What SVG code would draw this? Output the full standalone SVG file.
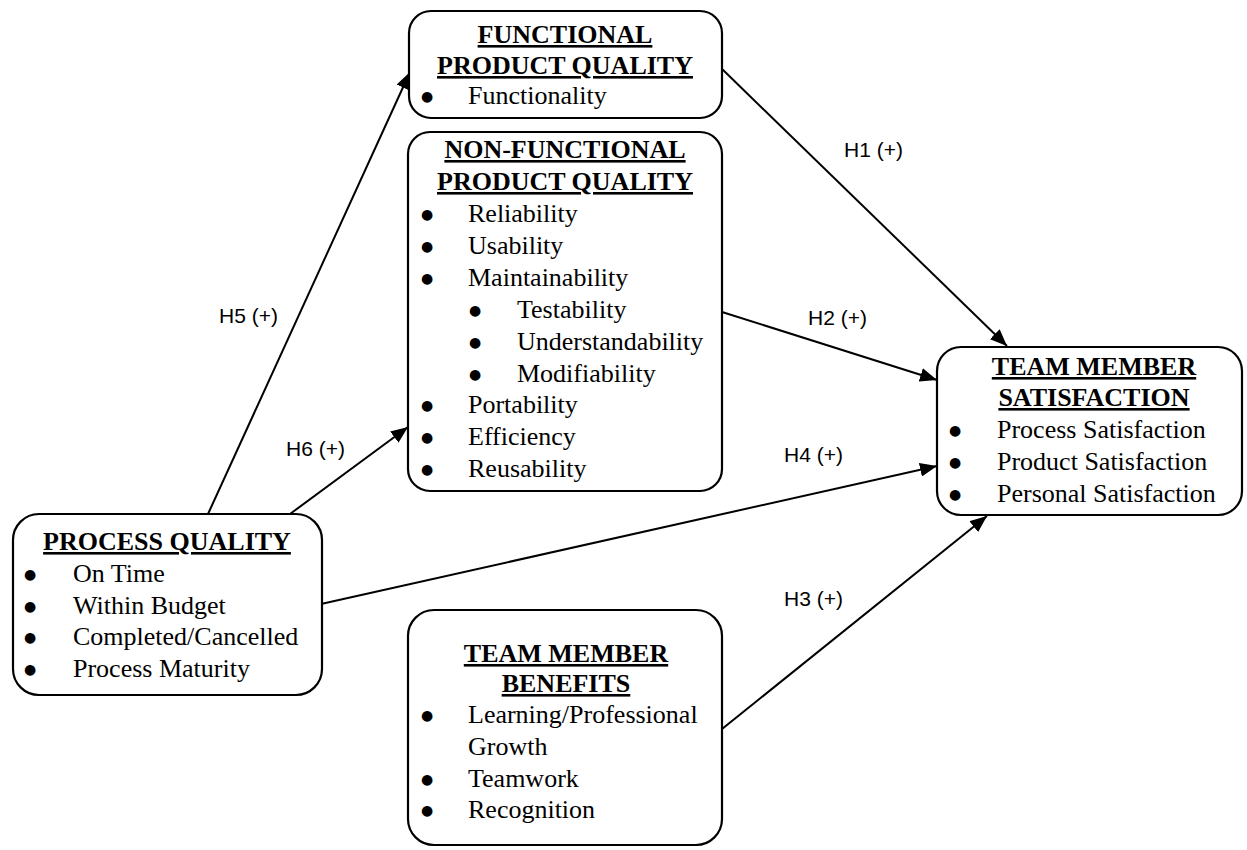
<svg xmlns="http://www.w3.org/2000/svg" width="1247" height="850" viewBox="0 0 1247 850">
<style>
.box{fill:#fff;stroke:#000;stroke-width:2.2}
.t{font-family:"Liberation Serif","Times New Roman",serif;font-size:26px;font-weight:bold;text-anchor:middle;text-decoration:underline}
.i{font-family:"Liberation Serif","Times New Roman",serif;font-size:26px}
.b{font-family:"DejaVu Sans",sans-serif;font-size:14px;text-anchor:middle}
.lbl{font-family:"Liberation Sans",Arial,sans-serif;font-size:21px}
.c{stroke:#000;stroke-width:2;fill:none;marker-end:url(#ah)}
</style>
<defs>
<marker id="ah" markerUnits="userSpaceOnUse" markerWidth="18" markerHeight="14" refX="17" refY="7" orient="auto">
<path d="M0,0 L17,7 L0,14 z" fill="#000"/>
</marker>
</defs>
<rect width="1247" height="850" fill="#fff"/>
<g id="connectors">
<line class="c" x1="208" y1="514" x2="410" y2="72"/>
<line class="c" x1="290" y1="514" x2="408" y2="427"/>
<line class="c" x1="321" y1="604" x2="937" y2="466"/>
<line class="c" x1="722" y1="312" x2="937" y2="380"/>
<line class="c" x1="720" y1="67" x2="1007" y2="346"/>
<line class="c" x1="722" y1="729" x2="987" y2="516"/>
<text class="lbl" x="844" y="157">H1 (+)</text>
<text class="lbl" x="808" y="325">H2 (+)</text>
<text class="lbl" x="784" y="462">H4 (+)</text>
<text class="lbl" x="219" y="323">H5 (+)</text>
<text class="lbl" x="286" y="456">H6 (+)</text>
<text class="lbl" x="784" y="606">H3 (+)</text>
</g>
<g id="functional">
<rect class="box" x="409" y="11" width="313" height="107" rx="22"/>
<text class="t" x="565" y="43">FUNCTIONAL</text>
<text class="t" x="565" y="74">PRODUCT QUALITY</text>
<text class="b" x="427" y="101">●</text>
<text class="i" x="468" y="104">Functionality</text>
</g>
<g id="nonfunctional">
<rect class="box" x="408" y="132" width="314" height="359" rx="22"/>
<text class="t" x="565" y="158">NON-FUNCTIONAL</text>
<text class="t" x="565" y="190">PRODUCT QUALITY</text>
<text class="b" x="427" y="219">●</text><text class="i" x="468" y="222">Reliability</text>
<text class="b" x="427" y="251">●</text><text class="i" x="468" y="254">Usability</text>
<text class="b" x="427" y="283">●</text><text class="i" x="468" y="286">Maintainability</text>
<text class="b" x="475" y="315">●</text><text class="i" x="517" y="318">Testability</text>
<text class="b" x="475" y="347">●</text><text class="i" x="517" y="350">Understandability</text>
<text class="b" x="475" y="379">●</text><text class="i" x="517" y="382">Modifiability</text>
<text class="b" x="427" y="410">●</text><text class="i" x="468" y="413">Portability</text>
<text class="b" x="427" y="442">●</text><text class="i" x="468" y="445">Efficiency</text>
<text class="b" x="427" y="474">●</text><text class="i" x="468" y="477">Reusability</text>
</g>
<g id="satisfaction">
<rect class="box" x="937" y="347" width="305" height="168" rx="24"/>
<text class="t" x="1094" y="375">TEAM MEMBER</text>
<text class="t" x="1094" y="406">SATISFACTION</text>
<text class="b" x="955" y="435">●</text><text class="i" x="997" y="438">Process Satisfaction</text>
<text class="b" x="955" y="467">●</text><text class="i" x="997" y="470">Product Satisfaction</text>
<text class="b" x="955" y="499">●</text><text class="i" x="997" y="502">Personal Satisfaction</text>
</g>
<g id="process">
<rect class="box" x="13" y="514" width="309" height="181" rx="26"/>
<text class="t" x="167" y="550">PROCESS QUALITY</text>
<text class="b" x="30" y="579">●</text><text class="i" x="73" y="582">On Time</text>
<text class="b" x="30" y="611">●</text><text class="i" x="73" y="614">Within Budget</text>
<text class="b" x="30" y="642">●</text><text class="i" x="73" y="645">Completed/Cancelled</text>
<text class="b" x="30" y="674">●</text><text class="i" x="73" y="677">Process Maturity</text>
</g>
<g id="benefits">
<rect class="box" x="408" y="610" width="314" height="235" rx="26"/>
<text class="t" x="566" y="662">TEAM MEMBER</text>
<text class="t" x="566" y="692">BENEFITS</text>
<text class="b" x="427" y="720">●</text><text class="i" x="468" y="723">Learning/Professional</text>
<text class="i" x="468" y="755">Growth</text>
<text class="b" x="427" y="784">●</text><text class="i" x="468" y="787">Teamwork</text>
<text class="b" x="427" y="815">●</text><text class="i" x="468" y="818">Recognition</text>
</g>
</svg>
